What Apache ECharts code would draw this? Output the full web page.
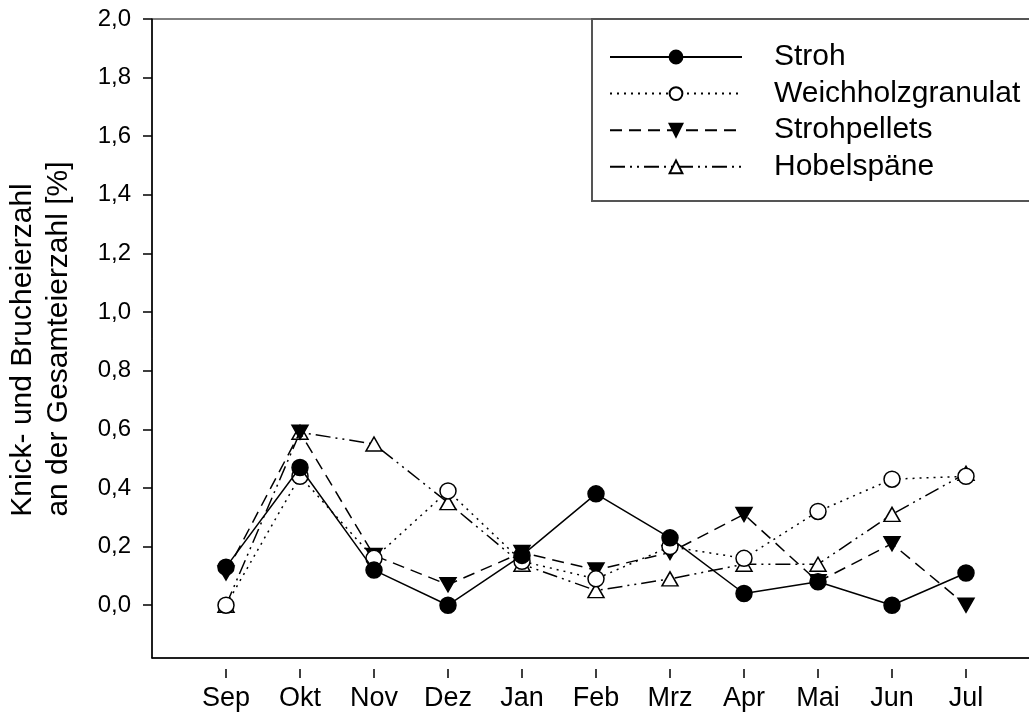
<!DOCTYPE html>
<html>
<head>
<meta charset="utf-8">
<script src="https://cdn.jsdelivr.net/npm/echarts@6/dist/echarts.min.js"></script>
<style>
  html, body { margin: 0; padding: 0; background: #fff; }
  #chart { width: 1029px; height: 715px; }
</style>
</head>
<body>
<div id="chart"></div>
<script>
// Monthly share of cracked and broken eggs per litter type
const months = ['Sep', 'Okt', 'Nov', 'Dez', 'Jan', 'Feb', 'Mrz', 'Apr', 'Mai', 'Jun', 'Jul'];
const stroh        = [0.13, 0.47, 0.12, 0.00, 0.17, 0.38, 0.23, 0.04, 0.08, 0.00, 0.11];
const weichholz    = [0.00, 0.44, 0.16, 0.39, 0.15, 0.09, 0.20, 0.16, 0.32, 0.43, 0.44];
const strohpellets = [0.11, 0.59, 0.17, 0.07, 0.18, 0.12, 0.18, 0.31, 0.08, 0.21, 0.00];
const hobelspaene  = [0.00, 0.59, 0.55, 0.35, 0.14, 0.05, 0.09, 0.14, 0.14, 0.31, 0.45];
const yTicks = [0, 0.2, 0.4, 0.6, 0.8, 1.0, 1.2, 1.4, 1.6, 1.8, 2.0];

const FONT = '"Liberation Sans", Arial, sans-serif';
const toPairs = arr => arr.map((v, i) => [i, v]);
// padded category list: one empty slot before Sep and after Jul
const paddedMonths = [''].concat(months, ['']);
const isMonth = (idx, val) => val !== '';

function lineSeries(name, values, dash, symbol, fill, extra) {
  return Object.assign({
    name: name,
    type: 'line',
    xAxisIndex: 0,
    data: toPairs(values),
    showAllSymbol: true,
    symbol: symbol,
    symbolSize: 16,
    lineStyle: { color: '#000', width: 1.5, type: dash },
    itemStyle: { color: fill, borderColor: '#000', borderWidth: 1.5 },
    emphasis: { disabled: true }
  }, extra || {});
}

const chart = echarts.init(document.getElementById('chart'), null, { renderer: 'canvas' });
chart.setOption({
  animation: false,
  backgroundColor: '#fff',
  grid: {
    left: 152, top: 19, width: 888, height: 639,
    outerBoundsMode: 'none', containLabel: false,
    show: true, borderColor: '#000', borderWidth: 1, backgroundColor: 'transparent'
  },
  xAxis: [
    {
      type: 'value', min: -1, max: 11, interval: 1, position: 'bottom',
      axisLine: { show: true, onZero: false, lineStyle: { color: '#000', width: 1.5 } },
      axisTick: { show: false }, axisLabel: { show: false }, splitLine: { show: false }
    },
    {
      // detached tick row carrying the month labels
      type: 'category', data: paddedMonths, boundaryGap: false,
      position: 'bottom', offset: 11,
      axisLine: { show: false, onZero: false },
      axisTick: { show: true, inside: false, length: 9, interval: isMonth, lineStyle: { color: '#000', width: 1.5 } },
      axisLabel: {
        show: true, margin: 16, interval: isMonth,
        color: '#000', fontSize: 27, fontFamily: FONT
      },
      splitLine: { show: false }
    }
  ],
  yAxis: {
    type: 'value', min: -0.18, max: 2.0,
    axisLine: { show: true, onZero: false, lineStyle: { color: '#000', width: 1.5 } },
    axisTick: { show: true, length: 9, lineStyle: { color: '#000', width: 1.5 }, customValues: yTicks },
    axisLabel: {
      margin: 21, customValues: yTicks,
      formatter: v => v.toFixed(1).replace('.', ','),
      color: '#000', fontSize: 24, fontFamily: FONT
    },
    splitLine: { show: false }
  },
  legend: {
    orient: 'vertical', left: 609, top: 42, padding: 0,
    itemWidth: 132, itemHeight: 16, itemGap: 6.6,
    selectedMode: false,
    textStyle: { color: '#000', fontSize: 30, fontFamily: FONT, lineHeight: 30, padding: [0, 0, 0, 27] },
    data: ['Stroh', 'Weichholzgranulat', 'Strohpellets', 'Hobelspäne']
  },
  graphic: [
    {
      type: 'rect', x: 592, y: 19, z: 0,
      shape: { x: 0, y: 0, width: 520, height: 182 },
      style: { fill: '#fff', stroke: '#555', lineWidth: 2 }
    },
    {
      type: 'text', x: 23, y: 350, rotation: Math.PI / 2,
      style: { text: 'Knick- und Brucheierzahl', font: '30px ' + FONT, fill: '#000', align: 'center', verticalAlign: 'middle' }
    },
    {
      type: 'text', x: 59, y: 339, rotation: Math.PI / 2,
      style: { text: 'an der Gesamteierzahl [%]', font: '30px ' + FONT, fill: '#000', align: 'center', verticalAlign: 'middle' }
    }
  ],
  series: [
    lineSeries('Hobelspäne', hobelspaene, [15, 5, 2, 5, 2, 5], 'triangle', '#fff', { symbolSize: [16, 14], z: 2 }),
    lineSeries('Strohpellets', strohpellets, [12, 7], 'triangle', '#000', { symbolSize: [16, 14], symbolRotate: 180, z: 3 }),
    lineSeries('Weichholzgranulat', weichholz, [2, 5], 'circle', '#fff', { z: 4 }),
    lineSeries('Stroh', stroh, 'solid', 'circle', '#000', { z: 5 })
  ]
});
</script>
</body>
</html>
